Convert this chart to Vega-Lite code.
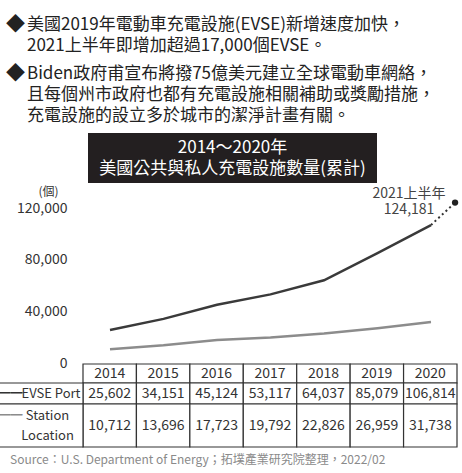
{
  "$schema": "https://vega.github.io/schema/vega-lite/v6.json",
  "width": 462,
  "height": 473,
  "autosize": {"type": "none"},
  "padding": 0,
  "background": "white",
  "config": {
    "view": {"stroke": null},
    "font": "Noto Sans CJK TC",
    "text": {"font": "Noto Sans CJK TC"},
    "axis": {"labelFont": "Noto Sans CJK TC", "titleFont": "Noto Sans CJK TC"}
  },
  "datasets": {
    "notes": [
      {"para": "1", "text": "美國2019年電動車充電設施(EVSE)新增速度加快，\n2021上半年即增加超過17,000個EVSE。"},
      {"para": "2", "text": "Biden政府甫宣布將撥75億美元建立全球電動車網絡，\n且每個州市政府也都有充電設施相關補助或獎勵措施，\n充電設施的設立多於城市的潔淨計畫有關。"}
    ],
    "heading": [{"title": "2014～2020年\n美國公共與私人充電設施數量(累計)"}],
    "series": [
      {"series": "EVSE Port", "t": 2014, "value": 25602},
      {"series": "EVSE Port", "t": 2015, "value": 34151},
      {"series": "EVSE Port", "t": 2016, "value": 45124},
      {"series": "EVSE Port", "t": 2017, "value": 53117},
      {"series": "EVSE Port", "t": 2018, "value": 64037},
      {"series": "EVSE Port", "t": 2019, "value": 85079},
      {"series": "EVSE Port", "t": 2020, "value": 106814},
      {"series": "Station Location", "t": 2014, "value": 10712},
      {"series": "Station Location", "t": 2015, "value": 13696},
      {"series": "Station Location", "t": 2016, "value": 17723},
      {"series": "Station Location", "t": 2017, "value": 19792},
      {"series": "Station Location", "t": 2018, "value": 22826},
      {"series": "Station Location", "t": 2019, "value": 26959},
      {"series": "Station Location", "t": 2020, "value": 31738}
    ],
    "h1": [
      {"t": 2020, "value": 106814, "label": ""},
      {"t": 2020.45, "value": 124181, "label": "2021上半年\n124,181"}
    ],
    "years": [
      {"year": 2014}, {"year": 2015}, {"year": 2016}, {"year": 2017},
      {"year": 2018}, {"year": 2019}, {"year": 2020}
    ],
    "labels": [
      {"series": "EVSE Port", "name": "EVSE Port"},
      {"series": "Station Location", "name": "Station\nLocation"}
    ],
    "source": [{"text": "Source：U.S. Department of Energy；拓墣產業研究院整理，2022/02"}]
  },
  "resolve": {"scale": {"x": "independent", "y": "independent", "color": "independent"}},
  "layer": [
    {
      "data": {"name": "notes"},
      "encoding": {
        "y": {"field": "para", "type": "ordinal", "scale": {"type": "point", "domain": ["1", "2"], "range": [17, 66], "padding": 0}, "axis": null}
      },
      "resolve": {"scale": {"x": "independent"}},
      "layer": [
        {
          "mark": {"type": "text", "align": "left", "baseline": "top", "lineBreak": "\n", "lineHeight": 21, "fontSize": 17, "color": "#222"},
          "encoding": {
            "x": {"field": "para", "type": "ordinal", "scale": {"type": "point", "domain": ["1", "2"], "range": [27, 27], "padding": 0}, "axis": null},
            "text": {"field": "text"}
          }
        },
        {
          "mark": {"type": "text", "align": "left", "baseline": "top", "fontSize": 19, "color": "#222", "text": "◆", "dy": -1},
          "encoding": {
            "x": {"field": "para", "type": "ordinal", "scale": {"type": "point", "domain": ["1", "2"], "range": [6, 6], "padding": 0}, "axis": null}
          }
        }
      ]
    },
    {
      "data": {"name": "heading"},
      "encoding": {
        "x": {"field": "title", "type": "nominal", "scale": {"type": "band", "range": [88, 377], "paddingInner": 0, "paddingOuter": 0}, "axis": null},
        "y": {"field": "title", "type": "nominal", "scale": {"type": "band", "range": [133, 183], "paddingInner": 0, "paddingOuter": 0}, "axis": null}
      },
      "layer": [
        {"mark": {"type": "rect", "color": "#231f20"}},
        {"mark": {"type": "text", "color": "white", "fontSize": 17, "lineBreak": "\n", "lineHeight": 21, "baseline": "middle", "dy": -10}, "encoding": {"text": {"field": "title"}}}
      ]
    },
    {
      "data": {"name": "series"},
      "encoding": {
        "x": {"field": "t", "type": "quantitative", "scale": {"domain": [2014, 2020], "range": [110, 431], "nice": false, "zero": false}, "axis": null},
        "y": {"field": "value", "type": "quantitative", "scale": {"domain": [0, 120000], "range": [363, 208], "nice": false},
          "axis": {"orient": "left", "offset": -70, "values": [0, 40000, 80000, 120000], "format": ",.0f", "domain": false, "ticks": false, "tickSize": 0, "grid": false, "labelPadding": 3, "labelFontSize": 14, "labelColor": "#333", "title": "(個)", "titleAngle": 0, "titleX": -22, "titleY": 191, "titleAlign": "center", "titleBaseline": "middle", "titleFontSize": 12, "titleFontWeight": "normal", "titleColor": "#333"}}
      },
      "layer": [
        {"mark": {"type": "line", "strokeWidth": 2.5}, "encoding": {"color": {"field": "series", "type": "nominal", "scale": {"domain": ["EVSE Port", "Station Location"], "range": ["#3a3a3a", "#8c8c8c"]}, "legend": null}}},
        {"data": {"name": "h1"}, "mark": {"type": "line", "strokeDash": [2, 3], "strokeWidth": 2, "color": "#333"}},
        {"data": {"name": "h1"}, "transform": [{"filter": "datum.t > 2020"}], "mark": {"type": "point", "filled": true, "size": 40, "color": "#222", "opacity": 1}},
        {"data": {"name": "h1"}, "transform": [{"filter": "datum.t > 2020"}], "mark": {"type": "text", "fontSize": 14, "color": "#444", "lineBreak": "\n", "lineHeight": 16, "baseline": "middle", "align": "center", "dx": -46, "dy": -9}, "encoding": {"text": {"field": "label"}}}
      ]
    },
    {
      "data": {"name": "years"},
      "encoding": {
        "x": {"field": "year", "type": "ordinal", "scale": {"type": "band", "range": [83, 457], "paddingInner": 0, "paddingOuter": 0}, "axis": null},
        "y": {"datum": "年份", "type": "nominal", "scale": {"type": "band", "domain": ["年份"], "range": [364, 383], "paddingInner": 0, "paddingOuter": 0}, "axis": null}
      },
      "layer": [
        {"mark": {"type": "rect", "fill": "white", "stroke": "#333", "strokeWidth": 1.2}},
        {"mark": {"type": "text", "fontSize": 14, "color": "#333"}, "encoding": {"text": {"field": "year", "type": "ordinal"}}}
      ]
    },
    {
      "data": {"name": "series"},
      "transform": [{"filter": "datum.series === 'EVSE Port'"}],
      "encoding": {
        "y": {"field": "series", "type": "nominal", "scale": {"type": "band", "domain": ["EVSE Port"], "range": [383, 404], "paddingInner": 0, "paddingOuter": 0}, "axis": null}
      },
      "resolve": {"scale": {"x": "independent"}},
      "layer": [
        {
          "encoding": {"x": {"field": "t", "type": "ordinal", "scale": {"type": "band", "domain": [2014, 2015, 2016, 2017, 2018, 2019, 2020], "range": [83, 457], "paddingInner": 0, "paddingOuter": 0}, "axis": null}},
          "layer": [
            {"mark": {"type": "rect", "fill": "white", "stroke": "#333", "strokeWidth": 1.2}},
            {"mark": {"type": "text", "fontSize": 14, "color": "#333"}, "encoding": {"text": {"field": "value", "type": "quantitative", "format": ",.0f"}}}
          ]
        },
        {
          "data": {"name": "labels"},
          "transform": [{"filter": "datum.series === 'EVSE Port'"}],
          "encoding": {"x": {"field": "series", "type": "nominal", "scale": {"type": "band", "domain": ["EVSE Port"], "range": [-2, 83], "paddingInner": 0, "paddingOuter": 0}, "axis": null}},
          "layer": [
            {"mark": {"type": "rect", "fill": "white", "stroke": "#333", "strokeWidth": 1.2}},
            {"mark": {"type": "text", "fontSize": 13, "color": "#333", "align": "right", "dx": 40}, "encoding": {"text": {"field": "name"}}},
            {"mark": {"type": "text", "fontSize": 12, "color": "#333", "align": "left", "dx": -42, "text": "━━"}}
          ]
        }
      ]
    },
    {
      "data": {"name": "series"},
      "transform": [{"filter": "datum.series === 'Station Location'"}],
      "encoding": {
        "y": {"field": "series", "type": "nominal", "scale": {"type": "band", "domain": ["Station Location"], "range": [404, 447], "paddingInner": 0, "paddingOuter": 0}, "axis": null}
      },
      "resolve": {"scale": {"x": "independent"}},
      "layer": [
        {
          "encoding": {"x": {"field": "t", "type": "ordinal", "scale": {"type": "band", "domain": [2014, 2015, 2016, 2017, 2018, 2019, 2020], "range": [83, 457], "paddingInner": 0, "paddingOuter": 0}, "axis": null}},
          "layer": [
            {"mark": {"type": "rect", "fill": "white", "stroke": "#333", "strokeWidth": 1.2}},
            {"mark": {"type": "text", "fontSize": 14, "color": "#333"}, "encoding": {"text": {"field": "value", "type": "quantitative", "format": ",.0f"}}}
          ]
        },
        {
          "data": {"name": "labels"},
          "transform": [{"filter": "datum.series === 'Station Location'"}],
          "encoding": {"x": {"field": "series", "type": "nominal", "scale": {"type": "band", "domain": ["Station Location"], "range": [-2, 83], "paddingInner": 0, "paddingOuter": 0}, "axis": null}},
          "layer": [
            {"mark": {"type": "rect", "fill": "white", "stroke": "#333", "strokeWidth": 1.2}},
            {"mark": {"type": "text", "fontSize": 13, "color": "#333", "dx": 7, "dy": -10, "lineBreak": "\n", "lineHeight": 20, "baseline": "middle"}, "encoding": {"text": {"field": "name"}}},
            {"mark": {"type": "text", "fontSize": 12, "color": "#8c8c8c", "align": "left", "dx": -42, "dy": -10, "text": "━━"}}
          ]
        }
      ]
    },
    {
      "data": {"name": "source"},
      "mark": {"type": "text", "align": "left", "baseline": "middle", "fontSize": 12, "color": "#8a8a8a"},
      "encoding": {
        "x": {"field": "text", "type": "nominal", "scale": {"type": "point", "range": [0, 20]}, "axis": null},
        "y": {"field": "text", "type": "nominal", "scale": {"type": "point", "range": [450, 470]}, "axis": null},
        "text": {"field": "text"}
      }
    }
  ]
}
